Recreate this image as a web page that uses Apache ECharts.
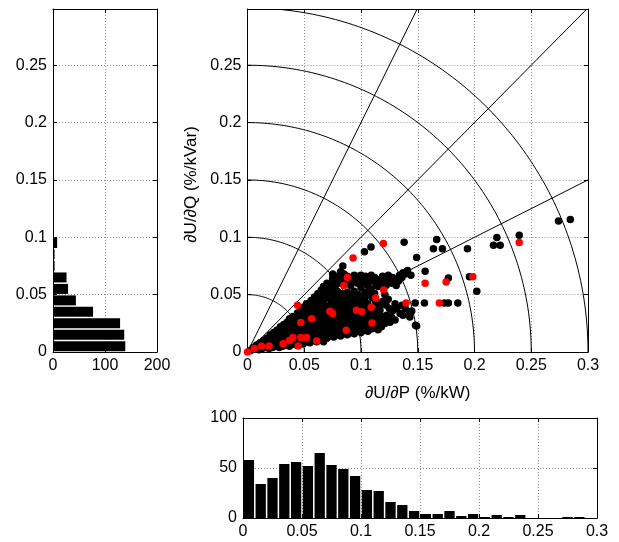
<!DOCTYPE html>
<html>
<head>
<meta charset="utf-8">
<script src="https://cdn.jsdelivr.net/npm/echarts@6/dist/echarts.min.js"></script>
<style>
  html, body { margin: 0; padding: 0; background: #fff; }
  #chart { width: 619px; height: 542px; }
</style>
</head>
<body>
<div id="chart"></div>
<script>
// ---- data -------------------------------------------------------------
// histogram of dU/dQ (%/kVar): lower bin edges and counts (bin width 0.01)
const qBinEdges = [0, 0.01, 0.02, 0.03, 0.04, 0.05, 0.06, 0.07, 0.08, 0.09];
const qCounts   = [139, 137, 129, 77, 44, 29, 26, 3, 3, 8];

// histogram of dU/dP (%/kW): lower bin edges and counts (bin width 0.01)
const pBinEdges = [0, 0.01, 0.02, 0.03, 0.04, 0.05, 0.06, 0.07, 0.08, 0.09,
                   0.10, 0.11, 0.12, 0.13, 0.14, 0.15, 0.16, 0.17, 0.18, 0.19,
                   0.20, 0.21, 0.22, 0.23, 0.24, 0.25, 0.26, 0.27, 0.28, 0.29];
const pCounts   = [58, 34, 40, 54, 56, 52, 65, 53, 49, 42,
                   28, 27, 16, 13, 7, 4, 4, 7, 2, 4,
                   1, 3, 1, 3, 0, 0, 0, 1, 1, 0];
const binWidth = 0.01;

// sensitivities of all nodes: [dU/dP, dU/dQ]
const nodeSens = [
  [0.002,0.001],[0.004,0.002],[0.005,0.004],[0.008,0.003],[0.008,0.006],[0.010,0.002],[0.010,0.005],[0.011,0.008],
  [0.013,0.003],[0.013,0.007],[0.014,0.010],[0.016,0.004],[0.016,0.008],[0.017,0.012],[0.019,0.003],[0.019,0.006],
  [0.020,0.010],[0.020,0.015],[0.022,0.004],[0.022,0.008],[0.023,0.012],[0.023,0.017],[0.025,0.005],[0.025,0.009],
  [0.026,0.014],[0.026,0.019],[0.028,0.004],[0.028,0.007],[0.029,0.011],[0.028,0.016],[0.029,0.022],
  [0.031,0.005],[0.031,0.009],[0.032,0.013],[0.031,0.018],[0.032,0.024],
  [0.034,0.006],[0.034,0.010],[0.035,0.015],[0.034,0.020],[0.035,0.026],
  [0.037,0.005],[0.037,0.008],[0.038,0.012],[0.037,0.017],[0.038,0.022],[0.037,0.029],
  [0.040,0.007],[0.040,0.010],[0.041,0.014],[0.040,0.019],[0.041,0.025],[0.040,0.031],
  [0.043,0.006],[0.043,0.009],[0.044,0.013],[0.043,0.017],[0.044,0.021],[0.043,0.027],[0.044,0.034],
  [0.046,0.008],[0.046,0.012],[0.047,0.016],[0.046,0.020],[0.047,0.024],[0.046,0.030],[0.047,0.036],
  [0.049,0.007],[0.049,0.010],[0.050,0.014],[0.049,0.018],[0.050,0.023],[0.049,0.028],[0.050,0.033],[0.049,0.039],
  [0.052,0.009],[0.052,0.013],[0.053,0.017],[0.052,0.021],[0.053,0.026],[0.052,0.031],[0.053,0.036],[0.052,0.042],
  [0.055,0.008],[0.055,0.011],[0.056,0.015],[0.055,0.019],[0.056,0.024],[0.055,0.029],[0.056,0.034],[0.055,0.039],[0.056,0.045],
  [0.058,0.010],[0.058,0.014],[0.059,0.018],[0.058,0.022],[0.059,0.027],[0.058,0.032],[0.059,0.038],[0.058,0.044],[0.059,0.048],
  [0.061,0.009],[0.061,0.012],[0.062,0.016],[0.061,0.020],[0.062,0.025],[0.061,0.030],[0.062,0.035],[0.061,0.041],[0.062,0.051],
  [0.064,0.011],[0.064,0.015],[0.065,0.019],[0.064,0.023],[0.065,0.028],[0.064,0.033],[0.065,0.039],[0.064,0.046],[0.065,0.054],
  [0.067,0.009],[0.067,0.013],[0.068,0.017],[0.067,0.021],[0.068,0.026],[0.067,0.031],[0.068,0.036],[0.067,0.043],[0.068,0.050],[0.067,0.057],
  [0.070,0.012],[0.070,0.016],[0.071,0.020],[0.070,0.024],[0.071,0.029],[0.070,0.034],[0.071,0.040],[0.070,0.047],[0.071,0.055],[0.070,0.060],
  [0.073,0.014],[0.073,0.018],[0.074,0.022],[0.073,0.027],[0.074,0.032],[0.073,0.038],[0.074,0.044],[0.073,0.052],[0.074,0.058],[0.075,0.064],
  [0.076,0.013],[0.076,0.017],[0.077,0.021],[0.076,0.025],[0.077,0.030],[0.076,0.036],[0.077,0.042],[0.076,0.049],[0.077,0.056],[0.076,0.062],[0.075,0.068],
  [0.079,0.015],[0.079,0.019],[0.080,0.023],[0.079,0.028],[0.080,0.033],[0.079,0.039],[0.080,0.046],[0.079,0.053],[0.080,0.060],[0.079,0.066],
  [0.082,0.014],[0.082,0.018],[0.083,0.022],[0.082,0.026],[0.083,0.031],[0.082,0.036],[0.083,0.043],[0.082,0.051],[0.083,0.064],[0.082,0.070],
  [0.085,0.016],[0.085,0.020],[0.086,0.024],[0.085,0.029],[0.086,0.034],[0.085,0.040],[0.086,0.047],[0.086,0.062],[0.085,0.068],[0.084,0.075],
  [0.088,0.015],[0.088,0.019],[0.089,0.023],[0.088,0.027],[0.089,0.032],[0.088,0.037],[0.089,0.044],[0.088,0.052],[0.089,0.060],[0.088,0.066],
  [0.091,0.017],[0.091,0.021],[0.092,0.025],[0.091,0.030],[0.092,0.035],[0.091,0.041],[0.092,0.048],[0.091,0.058],[0.092,0.064],
  [0.094,0.016],[0.094,0.020],[0.095,0.024],[0.094,0.028],[0.095,0.033],[0.094,0.039],[0.095,0.045],[0.094,0.053],[0.095,0.062],[0.094,0.067],
  [0.097,0.018],[0.097,0.022],[0.098,0.026],[0.097,0.031],[0.098,0.037],[0.097,0.043],[0.098,0.050],[0.097,0.060],[0.098,0.066],
  [0.100,0.017],[0.100,0.021],[0.101,0.025],[0.100,0.029],[0.101,0.034],[0.100,0.040],[0.101,0.047],[0.100,0.056],[0.101,0.063],[0.100,0.067],
  [0.103,0.019],[0.103,0.023],[0.104,0.027],[0.103,0.032],[0.104,0.038],[0.103,0.045],[0.104,0.052],[0.103,0.061],[0.104,0.066],
  [0.106,0.018],[0.106,0.022],[0.107,0.026],[0.106,0.030],[0.107,0.036],[0.106,0.042],[0.107,0.049],[0.106,0.058],[0.107,0.064],
  [0.109,0.020],[0.109,0.024],[0.110,0.028],[0.109,0.034],[0.110,0.047],[0.109,0.055],[0.110,0.062],[0.109,0.067],
  [0.112,0.021],[0.112,0.025],[0.113,0.030],[0.112,0.036],[0.113,0.043],[0.112,0.051],[0.113,0.060],[0.112,0.065],
  [0.115,0.0195],[0.115,0.023],[0.116,0.028],[0.115,0.033],[0.116,0.040],[0.115,0.057],[0.116,0.063],
  [0.118,0.022],[0.118,0.026],[0.119,0.031],[0.1167,0.0364],[0.119,0.044],[0.118,0.060],[0.119,0.066],
  [0.121,0.0248],[0.121,0.029],[0.1226,0.032],[0.122,0.041],[0.121,0.050],[0.122,0.058],[0.121,0.064],
  [0.124,0.027],[0.1256,0.026],[0.125,0.038],[0.124,0.046],[0.125,0.062],[0.124,0.067],
  [0.127,0.030],[0.128,0.036],[0.127,0.060],[0.128,0.065],
  [0.130,0.028],[0.1315,0.0379],[0.130,0.042],[0.131,0.058],[0.130,0.063],
  [0.1344,0.0335],[0.133,0.062],[0.134,0.067],
  [0.137,0.032],[0.136,0.0407],[0.136,0.065],[0.137,0.069],
  [0.139,0.038],[0.139,0.068],[0.141,0.071],
  [0.143,0.0305],[0.143,0.034],[0.1447,0.0358],[0.148,0.0233],[0.144,0.067],
  [0.138,0.0956],[0.1667,0.098],[0.1638,0.090],[0.1717,0.090],[0.1938,0.090],[0.2197,0.0998],[0.2167,0.0931],
  [0.2226,0.0931],[0.2394,0.1018],[0.274,0.1143],[0.2844,0.1155],[0.103,0.0873],[0.1088,0.0916],[0.149,0.0824],
  [0.1565,0.0704],[0.177,0.0646],[0.1955,0.0655],[0.202,0.053],[0.1477,0.0428],[0.1559,0.0428],[0.1735,0.0428],
  [0.177,0.0428],[0.1853,0.0428],[0.149,0.0227]
];

// highlighted nodes: [dU/dP, dU/dQ]
const markedSens = [
  [0,0],[0.006,0.003],[0.0124,0.005],[0.019,0.0052],[0.0314,0.0073],[0.037,0.010],[0.040,0.0126],[0.0447,0.0052],
  [0.047,0.0126],[0.052,0.0126],[0.061,0.0096],[0.047,0.0257],[0.0565,0.029],[0.044,0.0407],[0.0726,0.0355],
  [0.075,0.0335],[0.087,0.019],[0.096,0.0364],[0.1006,0.035],[0.109,0.039],[0.1097,0.0253],[0.113,0.047],
  [0.120,0.054],[0.085,0.058],[0.088,0.065],[0.093,0.082],[0.1197,0.0946],[0.1397,0.0428],[0.1565,0.060],
  [0.169,0.0428],[0.175,0.061],[0.1985,0.0655],[0.2394,0.0955]
];

// reference circles (magnitude) and rays (ratio dQ/dP) of the main plot
const circleRadii = [0.05, 0.1, 0.15, 0.2, 0.25, 0.3];
const rayEnds = [[0.3, 0.15], [0.3, 0.3], [0.15, 0.3]];

// ---- styling helpers --------------------------------------------------
const FONT = '"Liberation Sans", Arial, Helvetica, sans-serif';
const FS = 16;
const gridLine = { show: true, lineStyle: { color: '#8c8c8c', type: [1, 2], width: 1 } };
const blackLine = { show: true, onZero: false, lineStyle: { color: '#000', width: 1 } };
const tickIn = { show: true, inside: true, length: 4, lineStyle: { color: '#000' } };

function fmtStep(step) {
  return function (v) {
    const k = v / step;
    if (Math.abs(k - Math.round(k)) > 1e-6) return '';
    return String(parseFloat(v.toFixed(3)));
  };
}

function mainAxis(o) {
  return Object.assign({
    type: 'value', axisLine: blackLine, axisTick: tickIn, splitLine: gridLine,
    axisLabel: { color: '#000', fontFamily: FONT, fontSize: FS, margin: 6, formatter: fmtStep(o.interval) }
  }, o);
}
function mirrorAxis(o) {
  return Object.assign({
    type: 'value', axisLine: blackLine, axisTick: tickIn,
    splitLine: { show: false }, axisLabel: { show: false }
  }, o);
}

const Y_MAX = 0.299;
const nameStyle = { color: '#000', fontFamily: FONT, fontSize: 17 };

const option = {
  animation: false,
  backgroundColor: '#fff',
  grid: [
    { left: 53, top: 9, width: 104, height: 343 },      // dU/dQ histogram
    { left: 247.5, top: 9, width: 340.5, height: 343 }, // scatter
    { left: 243, top: 418, width: 354, height: 100 }    // dU/dP histogram
  ],
  xAxis: [
    mainAxis({ gridIndex: 0, min: 0, max: 200, interval: 100 }),
    mirrorAxis({ gridIndex: 0, position: 'top', min: 0, max: 200, interval: 100 }),
    mainAxis({ gridIndex: 1, min: 0, max: 0.3, interval: 0.05,
      name: '\u2202U/\u2202P (%/kW)', nameLocation: 'middle', nameGap: 33, nameTextStyle: nameStyle }),
    mirrorAxis({ gridIndex: 1, position: 'top', min: 0, max: 0.3, interval: 0.05 }),
    mainAxis({ gridIndex: 2, min: 0, max: 0.3, interval: 0.05 }),
    mirrorAxis({ gridIndex: 2, position: 'top', min: 0, max: 0.3, interval: 0.05 })
  ],
  yAxis: [
    mainAxis({ gridIndex: 0, min: 0, max: Y_MAX, interval: 0.05 }),
    mirrorAxis({ gridIndex: 0, position: 'right', min: 0, max: Y_MAX, interval: 0.05 }),
    mainAxis({ gridIndex: 1, min: 0, max: Y_MAX, interval: 0.05,
      name: '\u2202U/\u2202Q (%/kVar)', nameLocation: 'middle', nameGap: 32,
      nameTextStyle: Object.assign({ padding: [0, 0, 0, -8] }, nameStyle) }),
    mirrorAxis({ gridIndex: 1, position: 'right', min: 0, max: Y_MAX, interval: 0.05 }),
    mainAxis({ gridIndex: 2, min: 0, max: 100, interval: 50 }),
    mirrorAxis({ gridIndex: 2, position: 'right', min: 0, max: 100, interval: 50 })
  ],
  series: [
    // horizontal histogram bars (dU/dQ)
    {
      type: 'custom', xAxisIndex: 0, yAxisIndex: 0, clip: true,
      data: qBinEdges.map((e, i) => [qCounts[i], e]),
      renderItem: function (params, api) {
        const c = api.value(0), e = api.value(1);
        if (c <= 0) return null;
        const a = api.coord([0, e]), b = api.coord([c, e + binWidth]);
        return { type: 'rect', shape: { x: a[0], y: b[1] + 0.75, width: b[0] - a[0], height: a[1] - b[1] - 1.5 },
                 style: { fill: '#000' } };
      }
    },
    // vertical histogram bars (dU/dP)
    {
      type: 'custom', xAxisIndex: 4, yAxisIndex: 4, clip: true,
      data: pBinEdges.map((e, i) => [e, pCounts[i]]),
      renderItem: function (params, api) {
        const e = api.value(0), c = api.value(1);
        if (c <= 0) return null;
        const a = api.coord([e, 0]), b = api.coord([e + binWidth, c]);
        return { type: 'rect', shape: { x: a[0] + 0.75, y: b[1], width: b[0] - a[0] - 1.5, height: a[1] - b[1] },
                 style: { fill: '#000' } };
      }
    },
    // constant-magnitude circles
    {
      type: 'custom', xAxisIndex: 2, yAxisIndex: 2, clip: true, silent: true,
      data: circleRadii.map(r => [r, 0]),
      renderItem: function (params, api) {
        const r = api.value(0);
        const pts = [];
        for (let d = 0; d <= 90; d += 1) {
          const t = d * Math.PI / 180;
          pts.push(api.coord([r * Math.cos(t), r * Math.sin(t)]));
        }
        return { type: 'polyline', shape: { points: pts }, style: { stroke: '#000', lineWidth: 1, fill: null } };
      }
    },
    // constant-ratio rays
    {
      type: 'custom', xAxisIndex: 2, yAxisIndex: 2, clip: true, silent: true,
      data: rayEnds,
      renderItem: function (params, api) {
        const o = api.coord([0, 0]), p = api.coord([api.value(0), api.value(1)]);
        return { type: 'line', shape: { x1: o[0], y1: o[1], x2: p[0], y2: p[1] },
                 style: { stroke: '#000', lineWidth: 1 } };
      }
    },
    {
      type: 'scatter', xAxisIndex: 2, yAxisIndex: 2, data: nodeSens,
      symbol: 'circle', symbolSize: 7.5, itemStyle: { color: '#000', opacity: 1 }, z: 5
    },
    {
      type: 'scatter', xAxisIndex: 2, yAxisIndex: 2, data: markedSens,
      symbol: 'circle', symbolSize: 7.5, itemStyle: { color: '#ff0000', opacity: 1 }, z: 6
    }
  ]
};

const chart = echarts.init(document.getElementById('chart'), null, { renderer: 'canvas' });
chart.setOption(option);
</script>
</body>
</html>
